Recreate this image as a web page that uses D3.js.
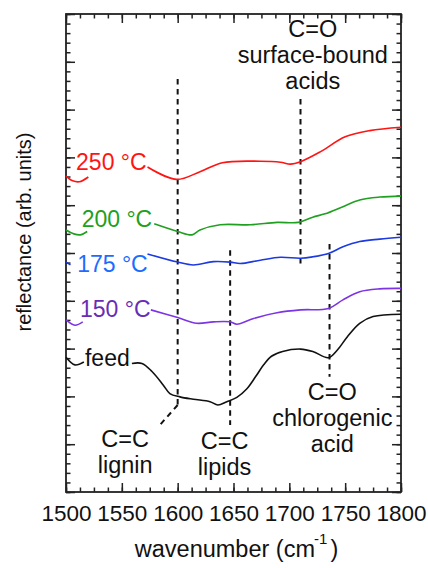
<!DOCTYPE html>
<html>
<head>
<meta charset="utf-8">
<script src="https://cdn.jsdelivr.net/npm/d3@7"></script>
<style>
  body { margin: 0; background: #fff; }
  text { font-family: "Liberation Sans", Arial, sans-serif; }
</style>
</head>
<body>
<svg id="svg-spectra" width="428" height="568"></svg>
<script>
// Data (wavenumber, reflectance in arb. units); null = line broken behind the label
var data_250 = [[1500,6.61],[1506,6.51],[1512,6.49],[1520,6.59],[1545,null],[1573,6.80],[1599,6.54],[1620,6.70],[1640,6.89],
                [1674,6.92],[1692,6.90],[1701,6.86],[1710,6.91],[1728,7.12],[1750,7.43],[1772,7.56],[1800,7.63]];
var data_200 = [[1500,5.48],[1507,5.40],[1513,5.38],[1519,5.45],[1545,null],[1579,5.61],[1600,5.45],[1613,5.38],[1620,5.48],
                [1638,5.59],[1665,5.59],[1689,5.64],[1708,5.64],[1721,5.75],[1732,5.82],[1748,5.97],[1763,6.11],[1781,6.17],[1800,6.19]];
var data_175 = [[1500,4.81],[1504,4.75],[1540,null],[1573,4.98],[1600,4.81],[1614,4.75],[1632,4.82],[1647,4.81],[1656,4.78],
                [1674,4.85],[1692,4.91],[1710,4.89],[1721,4.92],[1735,4.99],[1748,5.13],[1763,5.24],[1781,5.29],[1800,5.33]];
var data_150 = [[1500,3.60],[1508,3.49],[1515,3.56],[1545,null],[1576,3.81],[1600,3.65],[1617,3.53],[1632,3.56],[1647,3.56],
                [1653,3.51],[1668,3.63],[1689,3.75],[1710,3.81],[1735,3.84],[1748,4.02],[1763,4.19],[1781,4.25],[1800,4.26]];
var data_feed = [[1500,2.82],[1508,2.66],[1516,2.72],[1535,null],[1559,2.69],[1568,2.69],[1577,2.52],[1587,2.24],[1593,2.06],
                 [1602,1.99],[1614,1.94],[1629,1.89],[1636,1.82],[1644,1.89],[1653,1.98],[1662,2.16],[1670,2.42],[1677,2.66],
                 [1684,2.84],[1694,2.94],[1710,2.99],[1721,2.94],[1735,2.81],[1743,2.97],[1752,3.25],[1763,3.53],[1775,3.67],[1800,3.72]];

var series_names = ["250 °C", "200 °C", "175 °C", "150 °C", "feed"];
var series_data = [data_250, data_200, data_175, data_150, data_feed];

// dashed marker lines: wavenumber, from, to (reflectance)
var marker_lines = [[1600, 8.64, 1.82], [1647, 5.06, 1.40], [1710, 8.22, 4.78], [1736, 5.19, 2.41]];
var marker_diag = [[1600, 1.82], [1584, 1.40]];
var annot_text = [["C=O", "surface-bound", "acids"], ["C=C", "lignin"], ["C=C", "lipids"], ["C=O", "chlorogenic", "acid"]];
var annot_anchor = [[1721, 9.52], [1553, 0.94], [1642, 0.90], [1738.5, 1.92]];

var x_ticks = [1500, 1550, 1600, 1650, 1700, 1750, 1800];

function init() {
  var svg = d3.select("#svg-spectra");
  var W = 428, H = 568;
  var margin = {top: 14, right: 27, bottom: 76, left: 66};
  var w = W - margin.left - margin.right;
  var h = H - margin.top - margin.bottom;

  var colors = ["#ff1414", "#20a020", "#1c3ae0", "#7c34e4", "#111111"];
  var labelColors = ["#ff1414", "#20a020", "#1d6cff", "#6a2cb4", "#111111"];
  // label anchors (wavenumber, reflectance) for the series names
  var labelPos = [[1509, 6.74], [1514, 5.54], [1510, 4.60], [1512.5, 3.66], [1517, 2.63]];

  var x = d3.scaleLinear().domain([1500, 1800]).range([0, w]);
  var y = d3.scaleLinear().domain([0, 10]).range([h, 0]);

  var g = svg.append("g").attr("transform", "translate(" + margin.left + "," + margin.top + ")");

  // ticks on all four sides, pointing inwards
  var minorX = d3.range(1500, 1800.1, 12.5);
  var majorY = d3.range(0, 10.01, 1);
  var minorY = d3.range(0, 10.01, 0.2);

  function tickAxis(axis, cls, tr) {
    var a = g.append("g").attr("class", cls).attr("transform", tr).call(axis);
    a.select(".domain").remove();
    a.selectAll("line").attr("stroke", "#222").attr("stroke-width", 1.5);
    return a;
  }
  tickAxis(d3.axisBottom(x).tickValues(minorX).tickSize(-4.5).tickFormat(""), "xminor", "translate(0," + h + ")");
  tickAxis(d3.axisTop(x).tickValues(minorX).tickSize(-4.5).tickFormat(""), "xminor-top", "translate(0,0)");
  tickAxis(d3.axisTop(x).tickValues(x_ticks).tickSize(-9).tickFormat(""), "xmajor-top", "translate(0,0)");
  var xAxis = tickAxis(d3.axisBottom(x).tickValues(x_ticks).tickSize(-9).tickPadding(13).tickFormat(d3.format("d")),
                       "xmajor", "translate(0," + h + ")");
  xAxis.selectAll("text").attr("font-size", "22.5px").attr("fill", "#111")
       .style("font-family", "'Liberation Sans', Arial, sans-serif");

  tickAxis(d3.axisLeft(y).tickValues(minorY).tickSize(-4.5).tickFormat(""), "yminor", "translate(0,0)");
  tickAxis(d3.axisLeft(y).tickValues(majorY).tickSize(-9).tickFormat(""), "ymajor", "translate(0,0)");
  tickAxis(d3.axisRight(y).tickValues(minorY).tickSize(-4.5).tickFormat(""), "yminor-r", "translate(" + w + ",0)");
  tickAxis(d3.axisRight(y).tickValues(majorY).tickSize(-9).tickFormat(""), "ymajor-r", "translate(" + w + ",0)");

  // frame
  g.append("rect").attr("x", 0).attr("y", 0).attr("width", w).attr("height", h)
   .attr("fill", "none").attr("stroke", "#222").attr("stroke-width", 1.8);

  // dashed marker lines
  var dash = "5.5,4.5";
  g.selectAll(".marker").data(marker_lines).enter().append("line")
   .attr("class", "marker")
   .attr("x1", function(d) { return x(d[0]); }).attr("x2", function(d) { return x(d[0]); })
   .attr("y1", function(d) { return y(d[1]); }).attr("y2", function(d) { return y(d[2]); })
   .attr("stroke", "#111").attr("stroke-width", 2).attr("stroke-dasharray", dash);
  g.append("path").datum(marker_diag)
   .attr("d", d3.line().x(function(d) { return x(d[0]); }).y(function(d) { return y(d[1]); }))
   .attr("fill", "none").attr("stroke", "#111").attr("stroke-width", 2).attr("stroke-dasharray", dash);

  // spectra
  var line = d3.line()
               .defined(function(d) { return d[1] !== null; })
               .x(function(d) { return x(d[0]); })
               .y(function(d) { return y(d[1]); })
               .curve(d3.curveCatmullRom.alpha(0.5));
  g.selectAll(".spectrum").data(series_data).enter().append("path")
   .attr("class", "spectrum")
   .attr("d", line)
   .attr("fill", "none")
   .attr("stroke", function(d, i) { return colors[i]; })
   .attr("stroke-width", 1.6);

  // series names
  g.selectAll(".seriesLabel").data(series_names).enter().append("text")
   .attr("class", "seriesLabel")
   .attr("x", function(d, i) { return x(labelPos[i][0]); })
   .attr("y", function(d, i) { return y(labelPos[i][1]); })
   .attr("font-size", "23px")
   .attr("fill", function(d, i) { return labelColors[i]; })
   .text(function(d) { return d; });

  // annotations
  var lineH = 26;
  g.selectAll(".annot").data(annot_text).enter().append("text")
   .attr("class", "annot")
   .attr("text-anchor", "middle")
   .attr("font-size", "23.5px")
   .attr("fill", "#111")
   .each(function(d, i) {
     var t = d3.select(this);
     d.forEach(function(s, k) {
       t.append("tspan").attr("x", x(annot_anchor[i][0])).attr("y", y(annot_anchor[i][1]) + k * lineH).text(s);
     });
   });

  // axis titles
  var xt = svg.append("text")
              .attr("x", margin.left + w / 2 + 3)
              .attr("y", 556.5)
              .attr("text-anchor", "middle")
              .attr("font-size", "23.5px")
              .attr("fill", "#111");
  xt.append("tspan").text("wavenumber (cm");
  xt.append("tspan").attr("dx", -1).attr("dy", -13).attr("font-size", "15px").text("-1");
  xt.append("tspan").attr("dx", 3).attr("dy", 13).text(")");

  svg.append("text")
     .attr("transform", "translate(31," + (margin.top + 218) + ") rotate(-90)")
     .attr("text-anchor", "middle")
     .attr("font-size", "20px")
     .attr("fill", "#111")
     .text("reflectance (arb. units)");
}; // end init

init();
</script>
</body>
</html>
